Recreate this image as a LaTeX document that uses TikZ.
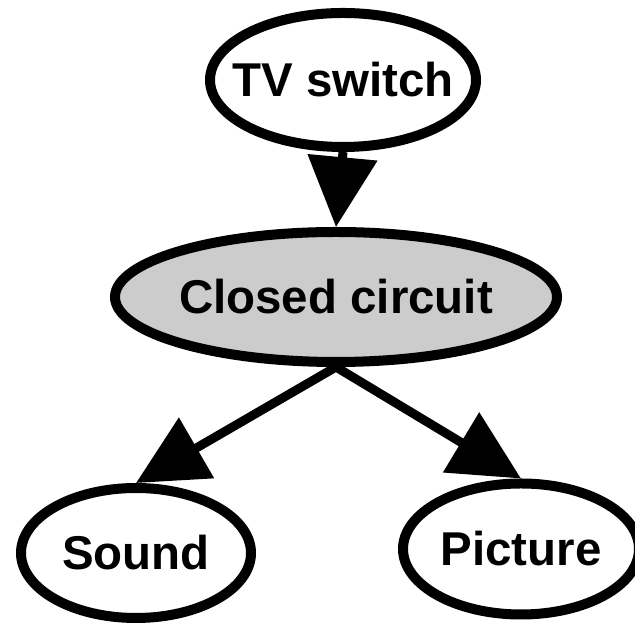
\documentclass[tikz,border=0pt]{standalone}
\usepackage{fontspec}
\setmainfont{Liberation Sans}
\usetikzlibrary{shapes.geometric}
\usetikzlibrary{arrows.meta}

\definecolor{lightfill}{gray}{0.8}

\begin{document}
\begin{tikzpicture}[
  state/.style={ellipse,draw,line width=0.2cm,inner sep=0pt,
    font=\fontsize{27}{32}\selectfont\bfseries},
  cause/.style={-{Triangle[length=1.4cm,width=1.36cm]},line width=0.18cm}
]
  \useasboundingbox (0,0) rectangle (12.7,12.48);
  \clip (0,0) rectangle (12.7,12.48);

  \node at (6.86,10.88) [state,minimum width=5.32cm,minimum height=2.68cm] (switch) {
    \makebox[0pt]{TV switch}
  };

  \node at (6.72,6.54) [state,fill=lightfill,minimum width=8.84cm,minimum height=2.6cm] (circuit) {
    \makebox[0pt]{Closed circuit}
  };

  \node at (2.72,1.42) [state,minimum width=4.6cm,minimum height=2.6cm] (sound) {
    \makebox[0pt]{Sound}
  };

  \node at (10.42,1.5) [state,minimum width=4.72cm,minimum height=2.62cm] (picture) {
    \makebox[0pt]{Picture}
  };

  \draw[cause] (switch.south) -- (circuit.north);
  \draw[cause] (circuit.south) -- (sound.north);
  \draw[cause] (circuit.south) -- (picture.north);
\end{tikzpicture}
\end{document}
